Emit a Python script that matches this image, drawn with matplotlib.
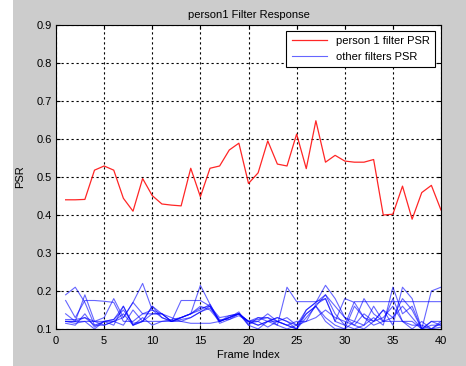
import matplotlib
matplotlib.use('Agg')
import matplotlib.pyplot as plt
from matplotlib.patches import Rectangle

plt.rcParams['font.family'] = ['Liberation Sans', 'DejaVu Sans']
plt.rcParams['font.size'] = 8

# frame indices 1..40
frames = list(range(1, 41))

# person 1 filter PSR (red)
person1_psr = [0.440, 0.440, 0.441, 0.518, 0.529, 0.518, 0.444, 0.410, 0.496, 0.451,
               0.429, 0.426, 0.424, 0.523, 0.448, 0.523, 0.529, 0.571, 0.589, 0.483,
               0.511, 0.595, 0.534, 0.529, 0.613, 0.522, 0.648, 0.539, 0.557, 0.542,
               0.539, 0.539, 0.546, 0.400, 0.402, 0.476, 0.389, 0.459, 0.478, 0.413]

# other filters PSR (blue), one list per filter
other1 = [0.12, 0.12, 0.12, 0.12, 0.12, 0.125, 0.16, 0.11, 0.12, 0.12,
          0.12, 0.12, 0.125, 0.13, 0.145, 0.16, 0.115, 0.125, 0.14, 0.12,
          0.125, 0.13, 0.11, 0.21, 0.172, 0.172, 0.172, 0.18, 0.12, 0.11,
          0.172, 0.172, 0.172, 0.172, 0.172, 0.172, 0.172, 0.172, 0.172, 0.172]
other2 = [0.19, 0.21, 0.17, 0.11, 0.12, 0.12, 0.11, 0.15, 0.12, 0.14,
          0.14, 0.12, 0.13, 0.14, 0.16, 0.15, 0.12, 0.13, 0.14, 0.115,
          0.12, 0.105, 0.12, 0.11, 0.10, 0.14, 0.16, 0.19, 0.14, 0.11,
          0.10, 0.11, 0.13, 0.11, 0.21, 0.14, 0.16, 0.10, 0.10, 0.115]
other3 = [0.14, 0.12, 0.13, 0.12, 0.13, 0.18, 0.13, 0.17, 0.22, 0.15,
          0.13, 0.12, 0.13, 0.14, 0.15, 0.165, 0.12, 0.13, 0.14, 0.11,
          0.13, 0.12, 0.12, 0.11, 0.10, 0.15, 0.17, 0.215, 0.18, 0.13,
          0.11, 0.10, 0.12, 0.15, 0.11, 0.21, 0.18, 0.10, 0.20, 0.21]
other4 = [0.12, 0.12, 0.19, 0.12, 0.11, 0.12, 0.14, 0.11, 0.12, 0.16,
          0.13, 0.12, 0.13, 0.14, 0.215, 0.165, 0.12, 0.13, 0.145, 0.11,
          0.10, 0.12, 0.13, 0.12, 0.10, 0.13, 0.16, 0.13, 0.11, 0.10,
          0.16, 0.13, 0.12, 0.15, 0.13, 0.16, 0.13, 0.10, 0.12, 0.11]
other5 = [0.175, 0.13, 0.175, 0.175, 0.173, 0.17, 0.12, 0.12, 0.14, 0.14,
          0.14, 0.12, 0.175, 0.175, 0.175, 0.16, 0.12, 0.13, 0.14, 0.12,
          0.11, 0.12, 0.11, 0.10, 0.11, 0.14, 0.16, 0.12, 0.10, 0.10,
          0.12, 0.11, 0.16, 0.12, 0.13, 0.18, 0.15, 0.10, 0.11, 0.11]
other6 = [0.12, 0.115, 0.12, 0.10, 0.12, 0.125, 0.15, 0.115, 0.12, 0.16,
          0.14, 0.12, 0.12, 0.13, 0.145, 0.155, 0.125, 0.125, 0.135, 0.12,
          0.13, 0.13, 0.12, 0.11, 0.12, 0.12, 0.165, 0.18, 0.12, 0.18,
          0.17, 0.13, 0.11, 0.12, 0.12, 0.12, 0.11, 0.11, 0.10, 0.12]
other7 = [0.115, 0.11, 0.14, 0.105, 0.12, 0.11, 0.16, 0.11, 0.13, 0.11,
          0.12, 0.125, 0.13, 0.14, 0.155, 0.16, 0.13, 0.135, 0.14, 0.12,
          0.11, 0.12, 0.13, 0.12, 0.11, 0.12, 0.13, 0.15, 0.13, 0.12,
          0.11, 0.14, 0.12, 0.13, 0.16, 0.12, 0.12, 0.10, 0.12, 0.12]
other8 = [0.125, 0.125, 0.13, 0.11, 0.11, 0.12, 0.13, 0.17, 0.14, 0.15,
          0.14, 0.13, 0.12, 0.115, 0.115, 0.115, 0.12, 0.135, 0.14, 0.12,
          0.12, 0.14, 0.12, 0.13, 0.11, 0.15, 0.17, 0.19, 0.16, 0.13,
          0.12, 0.18, 0.14, 0.12, 0.18, 0.12, 0.10, 0.12, 0.10, 0.105]
others = [other1, other2, other3, other4, other5, other6, other7, other8]

fig = plt.figure(figsize=(4.66, 3.66), dpi=100, facecolor='#cccccc')
# white strip on the left edge of the screenshot
fig.patches.append(Rectangle((0, 0), 13 / 466, 1, transform=fig.transFigure,
                             facecolor='white', edgecolor='none', zorder=0))
ax = fig.add_axes([56 / 466, 1 - 329 / 366, 385 / 466, 304 / 366])

ax.plot(frames, person1_psr, color='red', lw=0.9, alpha=0.85, label='person 1 filter PSR')
for i, vals in enumerate(others):
    ax.plot(frames, vals, color='blue', lw=0.8, alpha=0.6,
            label='other filters PSR' if i == 0 else None)

ax.set_xlim(0, 40)
ax.set_ylim(0.1, 0.9)
ax.set_xticks(range(0, 41, 5))
ax.set_yticks([0.1, 0.2, 0.3, 0.4, 0.5, 0.6, 0.7, 0.8, 0.9])
ax.grid(True, color='black', linestyle=(0, (2, 2.5)), linewidth=0.8)
ax.tick_params(direction='in', top=True, right=True, length=3)
ax.tick_params(axis='x', pad=5)
ax.tick_params(axis='y', pad=3)
for sp in ax.spines.values():
    sp.set_linewidth(0.8)

ax.set_title('person1 Filter Response', fontsize=8, pad=5)
ax.set_xlabel('Frame Index', labelpad=3)
ax.set_ylabel('PSR', labelpad=8)

leg = ax.legend(loc='upper right', fancybox=False, edgecolor='black',
                framealpha=1, borderaxespad=0.5, handlelength=3.2,
                borderpad=0.5, labelspacing=0.5)
leg.get_frame().set_linewidth(0.8)

fig.savefig('out.png', dpi=100, facecolor=fig.get_facecolor())
